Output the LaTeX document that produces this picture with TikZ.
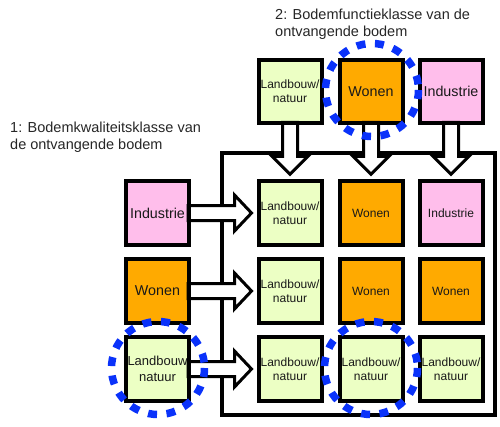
\documentclass[tikz,border=0pt]{standalone}
\usepackage{fontspec}
\setmainfont{Liberation Sans}
\usetikzlibrary{calc}
\definecolor{cgreen}{RGB}{236,255,196}
\definecolor{corange}{RGB}{255,170,0}
\definecolor{cpink}{RGB}{255,190,235}
\definecolor{cblue}{RGB}{10,50,250}
\tikzset{
  box/.style={draw=black, line width=4pt, minimum width=63pt, minimum height=63.5pt,
    inner sep=1pt, align=center, text=black!90, font=\fontsize{12}{14}\selectfont,
    preaction={fill=black!35, transform canvas={shift={(2pt,-2pt)}}}},
  green/.style={box, fill=cgreen},
  orange/.style={box, fill=corange},
  pink/.style={box, fill=cpink},
  big/.style={font=\fontsize{14.3}{16}\selectfont},
  blockarrow/.style={draw=black, line width=3pt, fill=white, line join=miter},
  frameline/.style={draw=black, line width=4pt},
  ring/.style={draw=cblue, line width=7.5pt, dash pattern=on 9pt off 9.5pt},
  caption/.style={anchor=north west, align=left, inner sep=0pt, font=\fontsize{14.5}{17}\selectfont, text=black!85},
  edgebox/.style={draw=black, line width=4pt}
}
\newcommand\harrowfrom[2]{%
  \draw[blockarrow] ($(#1.east)+(-3,-7.5)$) -- ($(#2.west)+(-22,-7.5)$) -- ($(#2.west)+(-22,-18)$)
    -- ($(#2.west)+(-5,0)$) -- ($(#2.west)+(-22,18)$) -- ($(#2.west)+(-22,7.5)$) -- ($(#1.east)+(-3,7.5)$) -- cycle;}
\newcommand\varrowfrom[2]{%
  \draw[blockarrow] ($(#1.south)+(-7.5,-3)$) -- ($(#2.north)+(-7.5,-23)$) -- ($(#2.north)+(-18,-23)$)
    -- ($(#2.north)+(0,-5)$) -- ($(#2.north)+(18,-23)$) -- ($(#2.north)+(7.5,-23)$) -- ($(#1.south)+(7.5,-3)$) -- cycle;}
\begin{document}
\begin{tikzpicture}[x=1pt, y=-1pt]
\useasboundingbox (0,0) rectangle (500,426);
% frame
\draw[frameline] (222,153) rectangle (495,415);
% nodes
\node[green]  (T1) at (290,91.5) {Landbouw/\\natuur};
\node[orange, big] (T2) at (371,91.5) {Wonen};
\node[pink, big]   (T3) at (451,91.5) {Industrie};

\node[pink, big]   (L1) at (157.5,213) {Industrie};
\node[orange, big] (L2) at (157.5,291) {Wonen};
\node[green, font=\fontsize{13}{15.5}\selectfont] (L3) at (157.5,369) {Landbouw\\natuur};

\node[green]  (G11) at (290,213) {Landbouw/\\natuur};
\node[orange] (G12) at (371,213) {Wonen};
\node[pink]   (G13) at (451,213) {Industrie};
\node[green]  (G21) at (290,291) {Landbouw/\\natuur};
\node[orange] (G22) at (371,291) {Wonen};
\node[orange] (G23) at (451,291) {Wonen};
\node[green]  (G31) at (290,369) {Landbouw/\\natuur};
\node[green]  (G32) at (371,369) {Landbouw/\\natuur};
\node[green]  (G33) at (451,369) {Landbouw/\\natuur};
% arrows
\harrowfrom{L1}{G11}
\harrowfrom{L2}{G21}
\harrowfrom{L3}{G31}
\varrowfrom{T1}{G11}
\varrowfrom{T2}{G12}
\varrowfrom{T3}{G13}
% redraw box outlines over arrow ends
\foreach \n in {T1,T2,T3,L1,L2,L3}{\draw[edgebox] ($(\n.north west)+(2,2)$) rectangle ($(\n.south east)+(-2,-2)$);}
% captions
\node[caption] (C2) at (275,9) {2: Bodemfunctieklasse van de\\ontvangende bodem};
\node[caption] (C1) at (10,122) {1: Bodemkwaliteitsklasse van\\de ontvangende bodem};
% rings
\draw[ring] (T2.center) ++(1,-1.5) circle (46.5);
\draw[ring] (L3.center) ++(0.5,-1) circle (46.5);
\draw[ring] (G32.center) ++(0,-1) circle (46.5);
\end{tikzpicture}
\end{document}
